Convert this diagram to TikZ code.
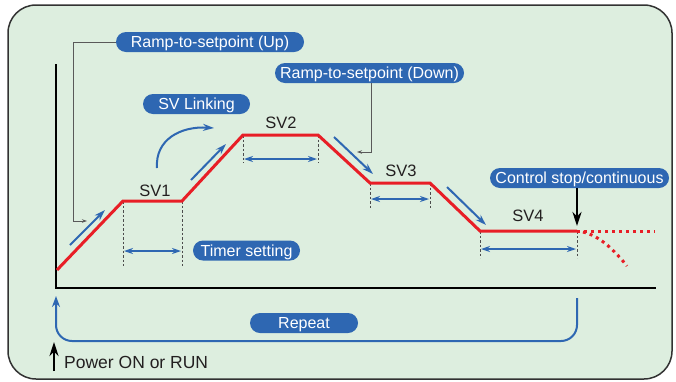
\documentclass[tikz,border=0pt]{standalone}
\usepackage{fontspec}
\setmainfont{Liberation Sans}
\usetikzlibrary{arrows.meta}
\definecolor{bg}{RGB}{221,238,223}
\definecolor{pillblue}{RGB}{46,103,178}
\definecolor{redline}{RGB}{232,30,38}
\definecolor{txt}{RGB}{35,31,32}
\definecolor{frame}{RGB}{50,50,50}
\begin{document}
\begin{tikzpicture}[x=1pt,y=-1pt,
  lbl/.style={font=\fontsize{16.5}{19}\selectfont, text=txt, inner sep=0pt, text height=11.8pt, text depth=0pt},
  pill/.style={font=\fontsize{16}{19}\selectfont, text=white, fill=pillblue, rounded corners=10pt,
     inner xsep=2pt, inner ysep=0pt, minimum height=20pt, text height=11.5pt, text depth=0pt},
  prof/.style={draw=redline, line width=3pt, line join=miter},
  dotprof/.style={draw=redline, line width=3pt, dash pattern=on 3pt off 4pt},
  bluearr/.style={draw=pillblue, line width=2pt, -{Stealth[length=11pt,width=7pt]}},
  dblarr/.style={draw=pillblue, line width=2pt, {Stealth[length=9pt,width=6pt]}-{Stealth[length=9pt,width=6pt]}},
  guide/.style={draw=black!70, line width=0.7pt, dash pattern=on 2.5pt off 2pt},
  conn/.style={draw=black!65, line width=1pt, -{Stealth[length=5pt,width=3.5pt]}},
  blackarr/.style={draw=black, line width=2.5pt, -{Stealth[length=14pt,width=9pt]}},
  axis/.style={draw=black, line width=2.5pt}
]
\useasboundingbox (0,0) rectangle (676,381);
% frame
\draw[draw=frame, fill=bg, line width=1.5pt, rounded corners=28pt] (8,5) rectangle (672,379);

% axes
\coordinate (ytop) at (56,64);
\coordinate (orig) at (56,288);
\coordinate (xend) at (656,288);
\draw[axis] (ytop) -- (orig) -- (xend);

% profile points
\coordinate (p0) at (57,270);
\coordinate (a1) at (123,201);
\coordinate (b1) at (182,201);
\coordinate (a2) at (243,135);
\coordinate (b2) at (318,135);
\coordinate (a3) at (370,183);
\coordinate (b3) at (430,183);
\coordinate (a4) at (480,231);
\coordinate (b4) at (577,231);
\coordinate (pend) at (655,231);
\coordinate (cstart) at (583,232);
\coordinate (cend) at (627,266);

% dashed guides
\coordinate (g1a) at (123,266); \coordinate (g1b) at (182,266);
\coordinate (g2a) at (243,163); \coordinate (g2b) at (318,163);
\coordinate (g3a) at (370,208); \coordinate (g3b) at (430,208);
\coordinate (g4a) at (480,258); \coordinate (g4b) at (577,258);
\draw[guide] (a1) -- (g1a); \draw[guide] (b1) -- (g1b);
\draw[guide] (a2) -- (g2a); \draw[guide] (b2) -- (g2b);
\draw[guide] (a3) -- (g3a); \draw[guide] (b3) -- (g3b);
\draw[guide] (a4) -- (g4a); \draw[guide] (b4) -- (g4b);

% double arrows (timer)
\coordinate (t1a) at (124,251); \coordinate (t1b) at (181,251);
\coordinate (t2a) at (244,159); \coordinate (t2b) at (317,159);
\coordinate (t3a) at (371,199); \coordinate (t3b) at (429,199);
\coordinate (t4a) at (481,249); \coordinate (t4b) at (576,249);
\draw[dblarr] (t1a) -- (t1b);
\draw[dblarr] (t2a) -- (t2b);
\draw[dblarr] (t3a) -- (t3b);
\draw[dblarr] (t4a) -- (t4b);

% red profile
\draw[prof] (p0) -- (a1) -- (b1) -- (a2) -- (b2) -- (a3) -- (b3) -- (a4) -- (b4);
\draw[dotprof] (b4) -- (pend);
\draw[dotprof] (cstart) .. controls (600,236) and (614,250) .. (cend);

% ramp direction arrows
\coordinate (r1a) at (70,245); \coordinate (r1b) at (105,210);
\coordinate (r2a) at (191,180); \coordinate (r2b) at (226,144);
\coordinate (r3a) at (334,137); \coordinate (r3b) at (373,174);
\coordinate (r4a) at (447,187); \coordinate (r4b) at (486,225);
\draw[bluearr] (r1a) -- (r1b);
\draw[bluearr] (r2a) -- (r2b);
\draw[bluearr] (r3a) -- (r3b);
\draw[bluearr] (r4a) -- (r4b);

% SV linking curved arrow
\coordinate (la) at (157,168);
\coordinate (lb) at (214,128);
\draw[bluearr] (la) .. controls (155,140) and (180,126) .. (lb);

% SV labels
\node[lbl] (sv1) at (155,190.5) {SV1};
\node[lbl] (sv2) at (281,123) {SV2};
\node[lbl] (sv3) at (401,171) {SV3};
\node[lbl] (sv4) at (528,216) {SV4};

% pills
\node[pill, minimum width=188pt] (up) at (210,42) {Ramp-to-setpoint (Up)};
\node[pill, minimum width=189pt] (down) at (369.5,73) {Ramp-to-setpoint (Down)};
\node[pill, minimum width=107pt] (link) at (196.5,104) {SV Linking};
\node[pill, minimum width=179pt] (ctrl) at (579.5,178) {Control stop/continuous};
\node[pill, minimum width=107pt] (timer) at (246.5,250.5) {Timer setting};
\node[pill, minimum width=108pt] (rep) at (304,323) {Repeat};

% connectors to ramps
\coordinate (upc) at (73,42);
\coordinate (upd) at (73,221);
\coordinate (upe) at (87,221);
\draw[conn] (up.west) -- (upc) -- (upd) -- (upe);
\coordinate (dnc) at (371,152);
\coordinate (dne) at (357,152);
\draw[conn] (down.south -| dnc) -- (dnc) -- (dne);

% control stop arrow
\coordinate (cs) at (577,226);
\draw[blackarr] (ctrl.south -| cs) -- (cs);

% repeat loop
\coordinate (ra) at (577,298);
\coordinate (rb) at (577,341);
\coordinate (rc) at (56,341);
\coordinate (rd) at (56,296);
\draw[draw=pillblue, line width=2pt, rounded corners=16pt, -{Stealth[length=11pt,width=8pt]}] (ra) -- (rb) -- (rc) -- (rd);

% power on
\coordinate (pw1) at (54,371);
\coordinate (pw2) at (54,342);
\draw[blackarr] (pw1) -- (pw2);
\node[lbl, anchor=west, font=\fontsize{17.5}{20}\selectfont] (power) at (64,362.5) {Power ON or RUN};
\end{tikzpicture}
\end{document}
